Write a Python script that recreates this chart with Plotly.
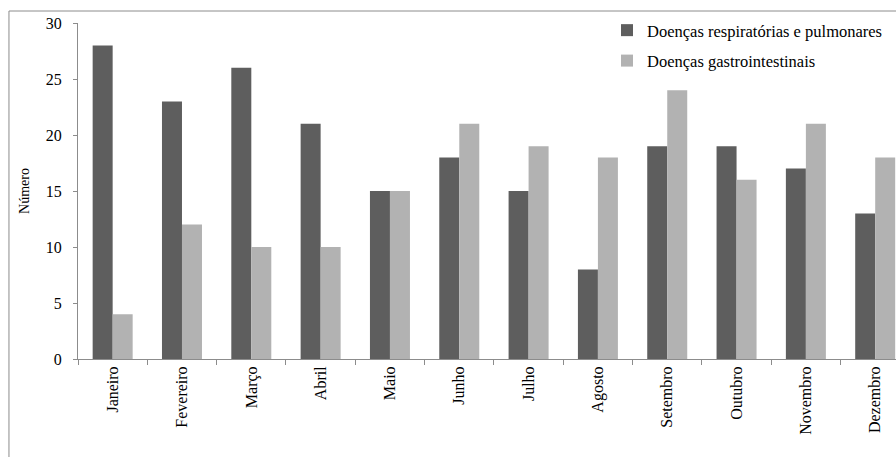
import plotly.graph_objects as go

# Monthly counts of disease cases by group
meses = ["Janeiro", "Fevereiro", "Março", "Abril", "Maio", "Junho",
         "Julho", "Agosto", "Setembro", "Outubro", "Novembro", "Dezembro"]
respiratorias = [28, 23, 26, 21, 15, 18, 15, 8, 19, 19, 17, 13]
gastrointestinais = [4, 12, 10, 10, 15, 21, 19, 18, 24, 16, 21, 18]

serie_nomes = ["Doenças respiratórias e pulmonares", "Doenças gastrointestinais"]
cores = ["#5e5e5e", "#b2b2b2"]
y_ticks = [0, 5, 10, 15, 20, 25, 30]

FONT = "Liberation Serif"
AXIS_GRAY = "#8c8c8c"

fig = go.Figure()
for nome, valores, cor, grp in zip(serie_nomes, [respiratorias, gastrointestinais], cores, ["a", "b"]):
    fig.add_trace(go.Bar(
        x=meses, y=valores, name=nome, marker=dict(color=cor, line=dict(width=0)),
        legendgroup=grp,
    ))

fig.update_layout(
    width=896, height=457,
    margin=dict(l=78, r=0, t=23, b=98),
    paper_bgcolor="white", plot_bgcolor="white",
    font=dict(family=FONT, size=16, color="black"),
    barmode="group", bargap=0.423, bargroupgap=0,
    showlegend=True,
    legend=dict(
        x=0.6467, y=1.03, xanchor="left", yanchor="top",
        bgcolor="rgba(0,0,0,0)", font=dict(family=FONT, size=16.5, color="black"),
        tracegroupgap=6, itemwidth=30,
    ),
    xaxis=dict(
        type="category", range=[-0.5, 11.3],
        showline=True, linecolor=AXIS_GRAY, linewidth=1,
        ticks="outside", ticklen=5, tickcolor=AXIS_GRAY, tickson="boundaries",
        tickangle=-90, showgrid=False, zeroline=False,
        tickfont=dict(family=FONT, size=16, color="black"),
    ),
    yaxis=dict(
        range=[0, 30], tickvals=y_ticks,
        showline=True, linecolor=AXIS_GRAY, linewidth=1,
        ticks="outside", ticklen=4, tickcolor=AXIS_GRAY,
        ticklabelstandoff=8,
        showgrid=False, zeroline=False,
        tickfont=dict(family=FONT, size=16, color="black"),
        title=dict(text="Número", font=dict(family=FONT, size=14, color="black"), standoff=12),
    ),
)

# Outer chart frame
fig.add_shape(
    type="rect", xref="paper", yref="paper",
    x0=-0.0844, x1=1.05, y0=-0.6, y1=1.0357,
    line=dict(color=AXIS_GRAY, width=1), fillcolor="rgba(0,0,0,0)", layer="below",
)

fig.write_html("out.html")
